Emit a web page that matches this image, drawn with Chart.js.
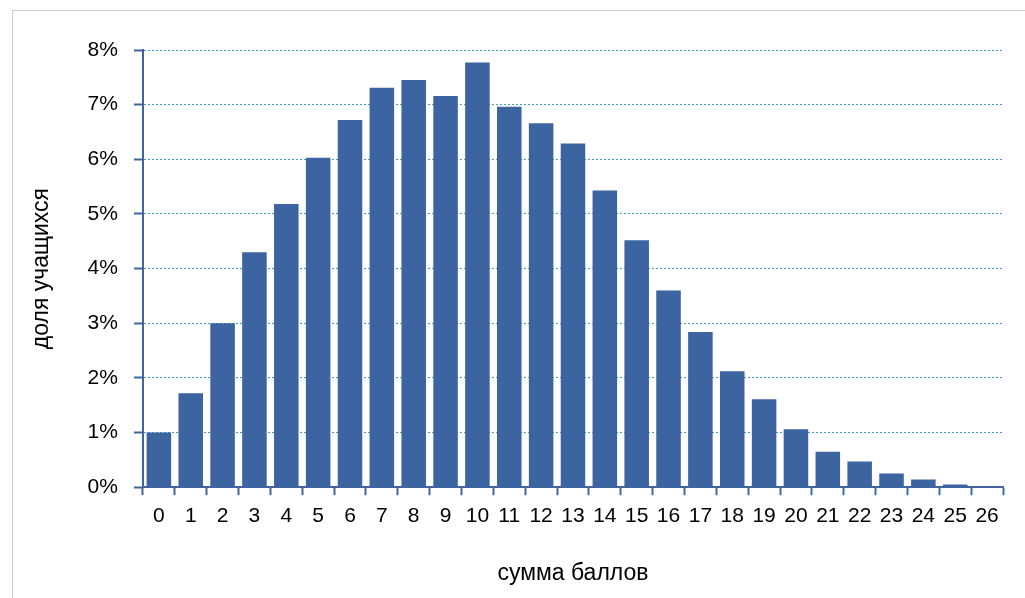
<!DOCTYPE html>
<html lang="ru">
<head>
  <meta charset="utf-8">
  <title>Распределение суммы баллов</title>
  <style>
    html, body { margin: 0; padding: 0; background: #fff; overflow: hidden; }
    #frame {
      position: absolute; left: 12px; top: 10px;
      width: 1100px; height: 700px;
      border: 1px solid #cccccc;
    }
    #wrap { position: absolute; left: 0; top: 0; width: 1025px; height: 598px; }
  </style>
</head>
<body>
  <div id="frame"></div>
  <div id="wrap"><canvas id="chart"></canvas></div>

  <script src="https://cdn.jsdelivr.net/npm/chart.js"></script>
  <script>
    // данные: сумма баллов -> доля учащихся, %
    const scores = ['0','1','2','3','4','5','6','7','8','9','10','11','12','13',
                    '14','15','16','17','18','19','20','21','22','23','24','25','26'];
    const shares = [1.0, 1.72, 3.0, 4.3, 5.18, 6.03, 6.72, 7.31, 7.45, 7.16, 7.77, 6.96, 6.66,
                    6.29, 5.43, 4.52, 3.6, 2.84, 2.12, 1.61, 1.06, 0.65, 0.47, 0.25, 0.14, 0.05, 0.01];
    const yTickLabels = ['0%','1%','2%','3%','4%','5%','6%','7%','8%'];

    const axisColor = '#3f64a0';
    const font = "'Liberation Sans Narrow', 'Liberation Sans', Arial, sans-serif";

    new Chart(document.getElementById('chart'), {
      type: 'bar',
      data: {
        labels: scores,
        datasets: [{
          data: shares,
          backgroundColor: '#3b64a0',
          borderWidth: 0,
          categoryPercentage: 1.0,
          barPercentage: 0.77
        }]
      },
      options: {
        responsive: true,
        maintainAspectRatio: false,
        animation: false,
        layout: { padding: { left: 28, right: 22, top: 50, bottom: 11 } },
        plugins: {
          legend: { display: false },
          tooltip: { enabled: false }
        },
        scales: {
          x: {
            offset: true,
            grid: {
              offset: true,
              drawOnChartArea: false,
              drawTicks: true,
              tickLength: 8,
              tickColor: axisColor,
              tickWidth: 2
            },
            border: { display: true, color: axisColor, width: 2 },
            ticks: {
              color: '#000',
              font: { family: font, size: 21 },
              padding: 8,
              maxRotation: 0,
              autoSkip: false
            },
            title: {
              display: true,
              text: 'сумма баллов',
              color: '#000',
              font: { family: font, size: 23 },
              padding: { top: 23, bottom: 0 }
            }
          },
          y: {
            min: 0,
            max: 8,
            grid: {
              color: '#3d9cc8',
              lineWidth: 1,
              drawTicks: true,
              tickLength: 9,
              tickColor: axisColor,
              tickWidth: 2
            },
            border: { display: true, color: axisColor, width: 2, dash: [2, 2] },
            ticks: {
              stepSize: 1,
              color: '#000',
              font: { family: font, size: 21 },
              padding: 16,
              callback: (v) => yTickLabels[v]
            },
            title: {
              display: true,
              text: 'доля учащихся',
              color: '#000',
              font: { family: font, size: 23 },
              padding: { top: 0, bottom: 16 }
            }
          }
        }
      }
    });
  </script>
</body>
</html>
